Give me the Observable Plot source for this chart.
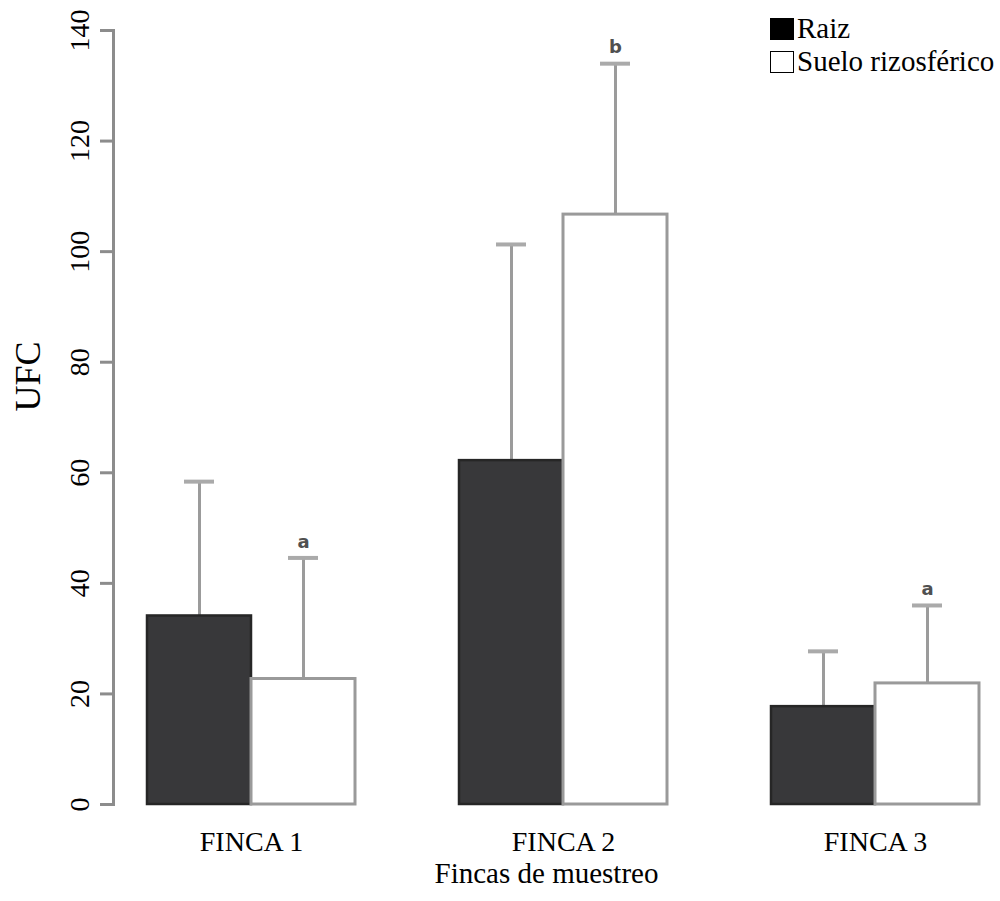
<!DOCTYPE html>
<html>
<head>
<meta charset="utf-8">
<script src="https://cdn.jsdelivr.net/npm/d3@7"></script>
<script src="https://cdn.jsdelivr.net/npm/@observablehq/plot@0.6"></script>
<style>
  html, body { margin: 0; padding: 0; background: #fff; }
  #wrap { position: relative; width: 1000px; height: 901px; }
  #legend { position: absolute; left: 770px; top: 12px; font-family: "Liberation Serif", "Times New Roman", serif; font-size: 29px; line-height: 33px; color: #000; }
  #legend .row { display: flex; align-items: center; }
  #legend .sw { width: 24px; height: 22px; box-sizing: border-box; margin-right: 3px; }
</style>
</head>
<body>
<div id="wrap">
  <div id="chart"></div>
  <div id="legend"></div>
</div>
<script>
// ---- data ----
const fincas = ["FINCA 1", "FINCA 2", "FINCA 3"];
const series = ["Raiz", "Suelo rizosférico"];
const raiz = [34.1, 62.2, 17.7];
const raizUpper = [58.4, 101.3, 27.7];
const suelo = [22.7, 106.7, 21.9];
const sueloUpper = [44.6, 134.0, 36.0];
const sueloLetters = ["a", "b", "a"];
const yTicks = [0, 20, 40, 60, 80, 100, 120, 140];

const raizRows = fincas.map((f, i) => ({finca: f, tipo: series[0], value: raiz[i], upper: raizUpper[i]}));
const sueloRows = fincas.map((f, i) => ({finca: f, tipo: series[1], value: suelo[i], upper: sueloUpper[i], letter: sueloLetters[i]}));

const errColor = "#9b9b9b";
const half = 104; // half of band width (bar width)
const off = 52;   // offset of each bar center from band center

const chart = Plot.plot({
  width: 1000,
  height: 901,
  marginLeft: 113,
  marginRight: 21,
  marginTop: 30,
  marginBottom: 97,
  style: {fontFamily: "'Liberation Serif', 'Times New Roman', serif", background: "#fff", color: "#000"},
  x: {domain: fincas, range: [147, 979], paddingInner: 1/3, paddingOuter: 0, align: 0.5},
  y: {domain: [0, 140]},
  marks: [
    Plot.frame({anchor: "left", stroke: "#8c8c8c", strokeWidth: 3}),
    Plot.axisY({ticks: yTicks, tickSize: 13, tickRotate: -90, tickPadding: 12, fontSize: 28, label: null, stroke: "#8c8c8c", strokeWidth: 3, fill: "#000"}),
    Plot.axisX({tickSize: 0, tickPadding: 27, fontSize: 28, label: null, fill: "#000"}),
    // error bars
    Plot.ruleX(raizRows, {x: "finca", y1: "value", y2: "upper", dx: -off, stroke: errColor, strokeWidth: 3}),
    Plot.ruleX(sueloRows, {x: "finca", y1: "value", y2: "upper", dx: off, stroke: errColor, strokeWidth: 3}),
    Plot.tickY(raizRows, {x: "finca", y: "upper", dx: -off, insetLeft: 89, insetRight: 89, stroke: "#aaa", strokeWidth: 4}),
    Plot.tickY(sueloRows, {x: "finca", y: "upper", dx: off, insetLeft: 89, insetRight: 89, stroke: "#aaa", strokeWidth: 4}),
    // bars
    Plot.barY(raizRows, {x: "finca", y: "value", insetRight: half, fill: "#38383a", stroke: "#262626", strokeWidth: 2.5}),
    Plot.barY(sueloRows, {x: "finca", y: "value", insetLeft: half, fill: "#fff", stroke: "#9a9a9a", strokeWidth: 3}),
    // significance letters
    Plot.text(sueloRows, {x: "finca", y: "upper", text: "letter", dx: off, dy: -16, fontFamily: "'DejaVu Sans', sans-serif", fontWeight: "bold", fontSize: 18, fill: "#505050"}),
    // axis titles
    Plot.text(["Fincas de muestreo"], {frameAnchor: "bottom", dy: 78, fontSize: 29, fill: "#000"}),
    Plot.text(["UFC"], {frameAnchor: "left", dx: -85, dy: -6, rotate: -90, fontSize: 36, fill: "#000"})
  ]
});
document.getElementById("chart").appendChild(chart);

// legend
const legend = d3.select("#legend");
const swatches = [{label: series[0], fill: "#000", border: "1px solid #000"}, {label: series[1], fill: "#fff", border: "1.5px solid #000"}];
swatches.forEach(s => {
  const row = legend.append("div").attr("class", "row");
  row.append("div").attr("class", "sw").style("background", s.fill).style("border", s.border);
  row.append("span").text(s.label);
});
</script>
</body>
</html>
